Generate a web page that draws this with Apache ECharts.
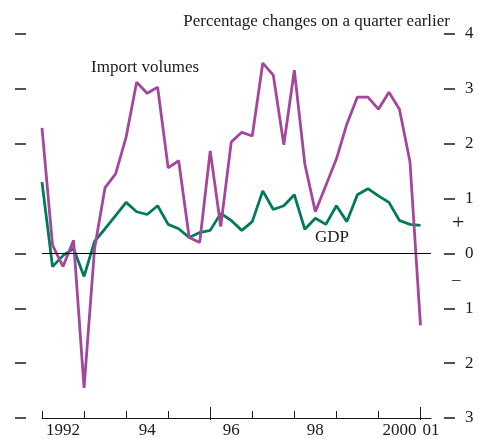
<!DOCTYPE html>
<html><head><meta charset="utf-8">
<script src="https://cdn.jsdelivr.net/npm/echarts@6/dist/echarts.min.js"></script>
<style>html,body{margin:0;padding:0;background:#fff}#c{width:479px;height:439px}</style>
</head><body><div id="c"></div>
<script>
// Quarterly, 1992 Q1 .. 2001 Q1
const quarters = [];
for (let y = 1992; y <= 2001; y++) for (let q = 1; q <= 4; q++) if (!(y === 2001 && q > 1)) quarters.push(y + ' Q' + q);

const importVolumes = [2.29, 0.15, -0.24, 0.24, -2.45, 0.09, 1.2, 1.45, 2.12, 3.12, 2.92, 3.03, 1.56, 1.69, 0.29, 0.2, 1.87, 0.49, 2.03, 2.21, 2.14, 3.47, 3.25, 1.98, 3.34, 1.63, 0.76, 1.24, 1.72, 2.36, 2.85, 2.85, 2.63, 2.94, 2.63, 1.67, -1.31];
const gdp = [1.3, -0.24, -0.04, 0.09, -0.42, 0.22, 0.45, 0.69, 0.93, 0.76, 0.71, 0.87, 0.53, 0.45, 0.29, 0.38, 0.42, 0.73, 0.6, 0.42, 0.58, 1.14, 0.8, 0.87, 1.07, 0.44, 0.64, 0.53, 0.87, 0.58, 1.07, 1.18, 1.05, 0.93, 0.6, 0.53, 0.51];

const yearTickPos = [0, 4, 8, 12, 20, 24, 28, 32];
const tallTickPos = [16, 36];
const xLabelPos = [2, 10, 18, 26, 34, 37];
const xLabelText = ['1992', '94', '96', '98', '2000', '01'];

const FONT = '"Liberation Serif", "Times New Roman", serif';
const INK = '#1a1a1a';
const chart = echarts.init(document.getElementById('c'), null, {renderer: 'canvas'});
const toXY = arr => arr.map((v, i) => [i, v]);

chart.setOption({
  animation: false,
  backgroundColor: '#fff',
  grid: {left: 42, right: 48, top: 34, bottom: 19, containLabel: false},
  title: {
    text: 'Percentage changes on a quarter earlier',
    right: 24, top: 8,
    textStyle: {fontFamily: FONT, fontSize: 17, fontWeight: 'normal', color: INK}
  },
  xAxis: [{
    type: 'value', min: 0, max: 37, position: 'bottom',
    axisLine: {show: true, onZero: false, lineStyle: {color: INK, width: 1}},
    axisTick: {show: true, inside: true, length: 7, customValues: yearTickPos, lineStyle: {color: INK, width: 1}},
    axisLabel: {show: true, margin: 4, customValues: xLabelPos,
      formatter: v => xLabelText[xLabelPos.indexOf(v)] || '',
      fontFamily: FONT, fontSize: 17, color: INK},
    splitLine: {show: false}
  }, {
    type: 'value', min: 0, max: 37, position: 'top', offset: -386,
    axisLine: {show: false, onZero: false},
    axisTick: {show: true, inside: false, length: 13, customValues: tallTickPos, lineStyle: {color: INK, width: 1}},
    axisLabel: {show: false},
    splitLine: {show: false}
  }],
  yAxis: [{
    type: 'value', min: -3, max: 4, interval: 1, position: 'left', offset: 16,
    axisLine: {show: true, onZero: false, lineStyle: {color: 'rgba(0,0,0,0)'}},
    axisTick: {show: true, inside: false, length: 11, lineStyle: {color: INK, width: 1.5}},
    axisLabel: {show: false},
    splitLine: {show: false}
  }, {
    type: 'value', min: -3, max: 4, interval: 1, position: 'right', offset: 13,
    axisLine: {show: true, onZero: false, lineStyle: {color: 'rgba(0,0,0,0)'}},
    axisTick: {show: true, inside: false, length: 11, lineStyle: {color: INK, width: 1.5}},
    axisLabel: {show: true, margin: 8, customValues: [4, 3, 2, 1, 0.55, 0, -0.48, -1, -2, -3],
      formatter: v => v === 0.55 ? '{s|+}' : (v === -0.48 ? '{m|–}' : '{d|' + Math.abs(v) + '}'),
      rich: {
        d: {fontFamily: FONT, fontSize: 17, color: INK, padding: [0, 0, 0, 13]},
        s: {fontFamily: FONT, fontSize: 22, color: INK},
        m: {fontFamily: FONT, fontSize: 17, color: INK}
      }},
    splitLine: {show: false}
  }],
  graphic: [
    {type: 'text', left: 91, top: 59, style: {text: 'Import volumes', font: '17px ' + FONT, fill: INK}},
    {type: 'text', left: 315, top: 229, style: {text: 'GDP', font: '17px ' + FONT, fill: INK}}
  ],
  series: [{
    name: 'Import volumes', type: 'line', data: toXY(importVolumes),
    showSymbol: false, symbol: 'none',
    lineStyle: {color: '#a3479c', width: 2.8}, z: 3,
    markLine: {silent: true, symbol: 'none', label: {show: false},
      lineStyle: {color: '#000', width: 1, type: 'solid'}, data: [{yAxis: 0}]}
  }, {
    name: 'GDP', type: 'line', data: toXY(gdp),
    showSymbol: false, symbol: 'none',
    lineStyle: {color: '#007a5c', width: 2.8}, z: 2
  }]
});
</script></body></html>
